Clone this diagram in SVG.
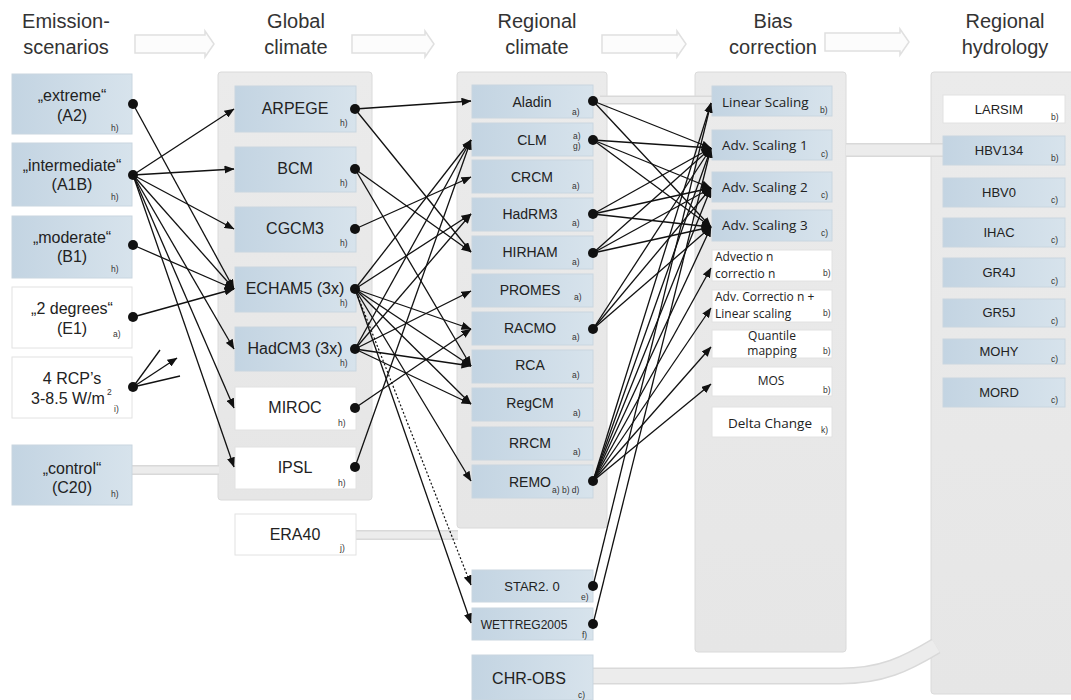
<svg xmlns="http://www.w3.org/2000/svg" width="1071" height="700" viewBox="0 0 1071 700">
<style>
.hd{font-family:"Liberation Sans",Arial,sans-serif;font-size:20px;fill:#333;text-anchor:middle}
.t16{font-family:"Liberation Sans",Arial,sans-serif;font-size:16px;fill:#222;text-anchor:middle}
.t14{font-family:"Liberation Sans",Arial,sans-serif;font-size:14px;fill:#222;text-anchor:middle}
.t13{font-family:"Liberation Sans",Arial,sans-serif;font-size:13px;fill:#222;text-anchor:middle}
.t12{font-family:"Liberation Sans",Arial,sans-serif;font-size:12px;fill:#222;text-anchor:middle}
.cb{font-family:"Open Sans","Liberation Sans",sans-serif;font-size:13.5px;fill:#222}
.cs{font-family:"Open Sans","Liberation Sans",sans-serif;font-size:12px;fill:#222}
.sp{font-family:"Liberation Sans",Arial,sans-serif;font-size:8.5px;fill:#333}
.blue{fill:url(#gb);stroke:#c9d6e0;stroke-width:1}
.white{fill:#fff;stroke:#e2e2e2;stroke-width:1}
.panel{fill:url(#gp);stroke:#dadada;stroke-width:1}
.harrow{fill:#fcfcfc;stroke:#e0e0e0;stroke-width:1.5}
.bandO{fill:none;stroke:#d9d9d9;stroke-linecap:butt}
.bandI{fill:none;stroke:#ececec;stroke-linecap:butt}
.c{fill:none;stroke:#111;stroke-width:1.3;marker-end:url(#ah)}
.n{fill:none;stroke:#111;stroke-width:1.3}
.d{fill:none;stroke:#111;stroke-width:1.2;stroke-dasharray:2 2;marker-end:url(#ah)}
.dot{fill:#111}
</style>
<defs>
<linearGradient id="gb" x1="0" y1="0" x2="1" y2="0">
<stop offset="0" stop-color="#c3d4e2"/>
<stop offset="1" stop-color="#d7e3ec"/>
</linearGradient>
<linearGradient id="gp" x1="0" y1="0" x2="0" y2="1">
<stop offset="0" stop-color="#ebebeb"/>
<stop offset="1" stop-color="#e6e6e6"/>
</linearGradient>
<marker id="ah" viewBox="0 0 10 8" refX="9.5" refY="4" markerWidth="10" markerHeight="8" markerUnits="userSpaceOnUse" orient="auto">
<path d="M0,0 L10,4 L0,8 z" fill="#111"/>
</marker>
</defs>
<rect width="1071" height="700" fill="#fff"/>

<g id="headers">
<text class="hd" x="66" y="28">Emission-</text>
<text class="hd" x="66" y="54">scenarios</text>
<text class="hd" x="296" y="28">Global</text>
<text class="hd" x="296" y="54">climate</text>
<text class="hd" x="537" y="28">Regional</text>
<text class="hd" x="537" y="54">climate</text>
<text class="hd" x="773" y="28">Bias</text>
<text class="hd" x="773" y="54">correction</text>
<text class="hd" x="1005" y="28">Regional</text>
<text class="hd" x="1005" y="54">hydrology</text>
<path class="harrow" d="M135,35 L205,35 L205,31 L214,44 L205,57 L205,53 L135,53 Z"/>
<path class="harrow" d="M352,35 L425,35 L425,31 L434,44 L425,57 L425,53 L352,53 Z"/>
<path class="harrow" d="M602,35 L677,35 L677,31 L686,44 L677,57 L677,53 L602,53 Z"/>
<path class="harrow" d="M825,33 L900,33 L900,29 L909,42 L900,55 L900,51 L825,51 Z"/>
</g>

<g id="panels">
<rect class="panel" x="218" y="72" width="154" height="428" rx="3"/>
<rect class="panel" x="457" y="72" width="150" height="456" rx="3"/>
<rect class="panel" x="695" y="72" width="151" height="580" rx="3"/>
<rect class="panel" x="931" y="72" width="145" height="622" rx="3"/>
</g>

<g id="bands">
<path class="bandO" stroke-width="10" d="M132,470 L219,470"/>
<path class="bandI" stroke-width="7" d="M132,470 L219,470"/>
<path class="bandO" stroke-width="10" d="M356,535 L458,535"/>
<path class="bandI" stroke-width="7" d="M356,535 L458,535"/>
<path class="bandO" stroke-width="9" d="M600,100 L712,100"/>
<path class="bandI" stroke-width="6" d="M600,100 L712,100"/>
<path class="bandO" stroke-width="14" d="M846,150 L944,150"/>
<path class="bandI" stroke-width="11" d="M846,150 L944,150"/>
<path class="bandO" stroke-width="17" d="M593,676 L840,676 C882,676 906,664 936,646"/>
<path class="bandI" stroke-width="14" d="M593,676 L840,676 C882,676 906,664 936,646"/>
</g>

<g id="em-A2"><rect class="blue" x="12" y="74" width="120" height="60"/><text class="t16" x="72" y="101">„extreme“</text><text class="t16" x="72" y="121">(A2)</text><text class="sp" x="111" y="131">h)</text><circle class="dot" cx="133" cy="104" r="5"/></g>
<g id="em-A1B"><rect class="blue" x="12" y="143" width="120" height="63"/><text class="t16" x="72" y="171">„intermediate“</text><text class="t16" x="72" y="190">(A1B)</text><text class="sp" x="111" y="200">h)</text><circle class="dot" cx="133" cy="175" r="5"/></g>
<g id="em-B1"><rect class="blue" x="12" y="216" width="120" height="62"/><text class="t16" x="72" y="243">„moderate“</text><text class="t16" x="72" y="262">(B1)</text><text class="sp" x="111" y="272">h)</text><circle class="dot" cx="133" cy="245" r="5"/></g>
<g id="em-E1"><rect class="white" x="12" y="287" width="120" height="61"/><text class="t16" x="72" y="314">„2 degrees“</text><text class="t16" x="72" y="334">(E1)</text><text class="sp" x="113" y="337">a)</text><circle class="dot" cx="133" cy="317" r="5"/></g>
<g id="em-RCP"><rect class="white" x="12" y="357" width="120" height="61"/><text class="t16" x="72" y="384">4 RCP’s</text><text class="t16" x="68" y="404">3-8.5 W/m</text><text class="sp" x="107" y="395">2</text><text class="sp" x="114" y="412">i)</text><circle class="dot" cx="133" cy="387" r="5"/></g>
<g id="em-C20"><rect class="blue" x="12" y="445" width="120" height="60"/><text class="t16" x="72" y="474">„control“</text><text class="t16" x="72" y="493">(C20)</text><text class="sp" x="111" y="497">h)</text></g>

<g id="gc-ARPEGE"><rect class="blue" x="235" y="86" width="121" height="46"/><text class="t16" x="295" y="114">ARPEGE</text><text class="sp" x="340" y="126">h)</text><circle class="dot" cx="355" cy="109" r="5"/></g>
<g id="gc-BCM"><rect class="blue" x="235" y="147" width="121" height="45"/><text class="t16" x="295" y="174">BCM</text><text class="sp" x="340" y="186">h)</text><circle class="dot" cx="355" cy="169" r="5"/></g>
<g id="gc-CGCM3"><rect class="blue" x="235" y="207" width="121" height="45"/><text class="t16" x="295" y="234">CGCM3</text><text class="sp" x="340" y="246">h)</text><circle class="dot" cx="355" cy="229" r="5"/></g>
<g id="gc-ECHAM5"><rect class="blue" x="235" y="267" width="121" height="45"/><text class="t16" x="295" y="294">ECHAM5 (3x)</text><text class="sp" x="340" y="306">h)</text><circle class="dot" cx="355" cy="289" r="5"/></g>
<g id="gc-HadCM3"><rect class="blue" x="235" y="327" width="121" height="44"/><text class="t16" x="295" y="354">HadCM3 (3x)</text><text class="sp" x="340" y="366">h)</text><circle class="dot" cx="355" cy="349" r="5"/></g>
<g id="gc-MIROC"><rect class="white" x="235" y="387" width="121" height="43"/><text class="t16" x="295" y="413">MIROC</text><text class="sp" x="338" y="426">h)</text><circle class="dot" cx="355" cy="408" r="5"/></g>
<g id="gc-IPSL"><rect class="white" x="235" y="447" width="121" height="42"/><text class="t16" x="295" y="473">IPSL</text><text class="sp" x="338" y="486">h)</text><circle class="dot" cx="355" cy="467" r="5"/></g>
<g id="gc-ERA40"><rect class="white" x="235" y="514" width="121" height="41"/><text class="t16" x="295" y="540">ERA40</text><text class="sp" x="340" y="551">j)</text></g>

<g id="rc-Aladin"><rect class="blue" x="472" y="85" width="121" height="33"/><text class="t14" x="532" y="107">Aladin</text><text class="sp" x="572" y="115">a)</text><circle class="dot" cx="593" cy="101" r="5"/></g>
<g id="rc-CLM"><rect class="blue" x="472" y="123" width="121" height="33"/><text class="t14" x="532" y="145">CLM</text><text class="sp" x="573" y="139">a)</text><text class="sp" x="573" y="149">g)</text><circle class="dot" cx="593" cy="140" r="5"/></g>
<g id="rc-CRCM"><rect class="blue" x="472" y="160" width="121" height="33"/><text class="t14" x="532" y="182">CRCM</text><text class="sp" x="572" y="189">a)</text></g>
<g id="rc-HadRM3"><rect class="blue" x="472" y="198" width="121" height="33"/><text class="t14" x="530" y="219">HadRM3</text><text class="sp" x="572" y="226">a)</text><circle class="dot" cx="593" cy="214" r="5"/></g>
<g id="rc-HIRHAM"><rect class="blue" x="472" y="236" width="121" height="33"/><text class="t14" x="530" y="257">HIRHAM</text><text class="sp" x="572" y="265">a)</text><circle class="dot" cx="593" cy="253" r="5"/></g>
<g id="rc-PROMES"><rect class="blue" x="472" y="274" width="121" height="33"/><text class="t14" x="530" y="295">PROMES</text><text class="sp" x="574" y="300">a)</text></g>
<g id="rc-RACMO"><rect class="blue" x="472" y="312" width="121" height="33"/><text class="t14" x="530" y="333">RACMO</text><text class="sp" x="572" y="340">a)</text><circle class="dot" cx="593" cy="329" r="5"/></g>
<g id="rc-RCA"><rect class="blue" x="472" y="350" width="121" height="33"/><text class="t14" x="530" y="370">RCA</text><text class="sp" x="572" y="378">a)</text></g>
<g id="rc-RegCM"><rect class="blue" x="472" y="388" width="121" height="33"/><text class="t14" x="530" y="408">RegCM</text><text class="sp" x="573" y="416">a)</text></g>
<g id="rc-RRCM"><rect class="blue" x="472" y="427" width="121" height="33"/><text class="t14" x="530" y="448">RRCM</text><text class="sp" x="573" y="455">a)</text></g>
<g id="rc-REMO"><rect class="blue" x="472" y="465" width="121" height="33"/><text class="t14" x="530" y="487">REMO</text><text class="sp" x="552" y="493">a) b) d)</text><circle class="dot" cx="593" cy="481" r="5"/></g>
<g id="rc-STAR"><rect class="blue" x="472" y="570" width="121" height="32"/><text class="t13" x="532" y="591">STAR2.  0</text><text class="sp" x="581" y="600">e)</text><circle class="dot" cx="593" cy="586" r="5"/></g>
<g id="rc-WETTREG"><rect class="blue" x="472" y="608" width="121" height="32"/><text class="t12" x="524" y="629">WETTREG2005</text><text class="sp" x="582" y="638">f)</text><circle class="dot" cx="593" cy="624" r="5"/></g>
<g id="rc-CHROBS"><rect class="blue" x="472" y="655" width="121" height="45"/><text class="t16" x="529" y="684">CHR-OBS</text><text class="sp" x="578" y="698">c)</text></g>

<g id="bc-LS"><rect class="blue" x="712" y="86" width="120" height="30"/><text class="cb" x="722" y="107">Linear Scaling</text><text class="sp" x="820" y="113">b)</text></g>
<g id="bc-AS1"><rect class="blue" x="712" y="130" width="120" height="30"/><text class="cb" x="722" y="150">Adv. Scaling 1</text><text class="sp" x="821" y="157">c)</text></g>
<g id="bc-AS2"><rect class="blue" x="712" y="172" width="120" height="30"/><text class="cb" x="722" y="192">Adv. Scaling 2</text><text class="sp" x="821" y="198">c)</text></g>
<g id="bc-AS3"><rect class="blue" x="712" y="210" width="120" height="31"/><text class="cb" x="722" y="230">Adv. Scaling 3</text><text class="sp" x="821" y="236">c)</text></g>
<g id="bc-AC"><rect class="white" x="712" y="250" width="120" height="31"/><text class="cs" x="715" y="261">Advectio n</text><text class="cs" x="715" y="278">correctio n</text><text class="sp" x="823" y="276">b)</text></g>
<g id="bc-ACLS"><rect class="white" x="712" y="290" width="120" height="32"/><text class="cs" x="715" y="301">Adv. Correctio n +</text><text class="cs" x="715" y="318">Linear scaling</text><text class="sp" x="823" y="316">b)</text></g>
<g id="bc-QM"><rect class="white" x="712" y="330" width="120" height="28"/><text class="cs" x="772" y="340" text-anchor="middle">Quantile</text><text class="cs" x="772" y="355" text-anchor="middle">mapping</text><text class="sp" x="823" y="354">b)</text></g>
<g id="bc-MOS"><rect class="white" x="712" y="367" width="120" height="29"/><text class="cs" x="771" y="385" text-anchor="middle">MOS</text><text class="sp" x="823" y="393">b)</text></g>
<g id="bc-DC"><rect class="white" x="712" y="407" width="120" height="30"/><text class="cb" x="770" y="428" text-anchor="middle" font-size="14.5">Delta Change</text><text class="sp" x="821" y="433">k)</text></g>

<g id="hy-LARSIM"><rect class="white" x="943" y="95" width="122" height="28"/><text class="t13" x="999" y="114">LARSIM</text><text class="sp" x="1051" y="120">b)</text></g>
<g id="hy-HBV134"><rect class="blue" x="943" y="136" width="122" height="29"/><text class="t13" x="999" y="155">HBV134</text><text class="sp" x="1051" y="161">b)</text></g>
<g id="hy-HBV0"><rect class="blue" x="943" y="178" width="122" height="29"/><text class="t13" x="999" y="197">HBV0</text><text class="sp" x="1051" y="203">c)</text></g>
<g id="hy-IHAC"><rect class="blue" x="943" y="218" width="122" height="29"/><text class="t13" x="999" y="237">IHAC</text><text class="sp" x="1051" y="243">c)</text></g>
<g id="hy-GR4J"><rect class="blue" x="943" y="258" width="122" height="29"/><text class="t13" x="999" y="277">GR4J</text><text class="sp" x="1051" y="284">c)</text></g>
<g id="hy-GR5J"><rect class="blue" x="943" y="299" width="122" height="28"/><text class="t13" x="999" y="317">GR5J</text><text class="sp" x="1051" y="324">c)</text></g>
<g id="hy-MOHY"><rect class="blue" x="943" y="339" width="122" height="25"/><text class="t13" x="999" y="356">MOHY</text><text class="sp" x="1051" y="362">c)</text></g>
<g id="hy-MORD"><rect class="blue" x="943" y="378" width="122" height="29"/><text class="t13" x="999" y="397">MORD</text><text class="sp" x="1051" y="403">c)</text></g>

<g id="connectors">
<path class="c" d="M133,104 L234,289"/>
<path class="c" d="M133,175 L234,109"/>
<path class="c" d="M133,175 L234,169"/>
<path class="c" d="M133,175 L234,229"/>
<path class="c" d="M133,175 L234,289"/>
<path class="c" d="M133,175 L234,349"/>
<path class="c" d="M133,175 L234,408"/>
<path class="c" d="M133,175 L234,467"/>
<path class="c" d="M133,245 L234,289"/>
<path class="c" d="M133,317 L234,289"/>
<path class="n" d="M133,387 L160,350"/>
<path class="c" d="M133,387 L177,358"/>
<path class="n" d="M133,387 L180,376"/>

<path class="c" d="M355,109 L471,101"/>
<path class="c" d="M355,109 L471,252"/>
<path class="c" d="M355,169 L471,252"/>
<path class="c" d="M355,169 L471,366"/>
<path class="c" d="M355,229 L471,177"/>
<path class="c" d="M355,289 L471,140"/>
<path class="c" d="M355,289 L471,214"/>
<path class="c" d="M355,289 L471,329"/>
<path class="c" d="M355,289 L471,366"/>
<path class="c" d="M355,289 L471,404"/>
<path class="c" d="M355,289 L471,481"/>
<path class="d" d="M355,289 L471,585"/>
<path class="c" d="M355,289 L471,623"/>
<path class="c" d="M355,349 L471,140"/>
<path class="c" d="M355,349 L471,214"/>
<path class="c" d="M355,349 L471,291"/>
<path class="c" d="M355,349 L471,366"/>
<path class="c" d="M355,349 L471,404"/>
<path class="c" d="M355,408 L471,329"/>
<path class="c" d="M355,467 L471,140"/>

<path class="c" d="M593,101 L711,148"/>
<path class="c" d="M593,101 L711,227"/>
<path class="c" d="M593,140 L711,148"/>
<path class="c" d="M593,140 L711,188"/>
<path class="c" d="M593,140 L711,227"/>
<path class="c" d="M593,214 L711,148"/>
<path class="c" d="M593,214 L711,188"/>
<path class="c" d="M593,214 L711,227"/>
<path class="c" d="M593,253 L711,148"/>
<path class="c" d="M593,253 L711,188"/>
<path class="c" d="M593,253 L711,227"/>
<path class="c" d="M593,329 L711,148"/>
<path class="c" d="M593,329 L711,188"/>
<path class="c" d="M593,329 L711,227"/>
<path class="c" d="M593,481 L711,103"/>
<path class="c" d="M593,481 L711,148"/>
<path class="c" d="M593,481 L711,188"/>
<path class="c" d="M593,481 L711,227"/>
<path class="c" d="M593,481 L711,268"/>
<path class="c" d="M593,481 L711,308"/>
<path class="c" d="M593,481 L711,347"/>
<path class="c" d="M593,481 L711,384"/>
<path class="c" d="M593,586 L711,103"/>
<path class="c" d="M593,624 L711,148"/>
</g>
</svg>
